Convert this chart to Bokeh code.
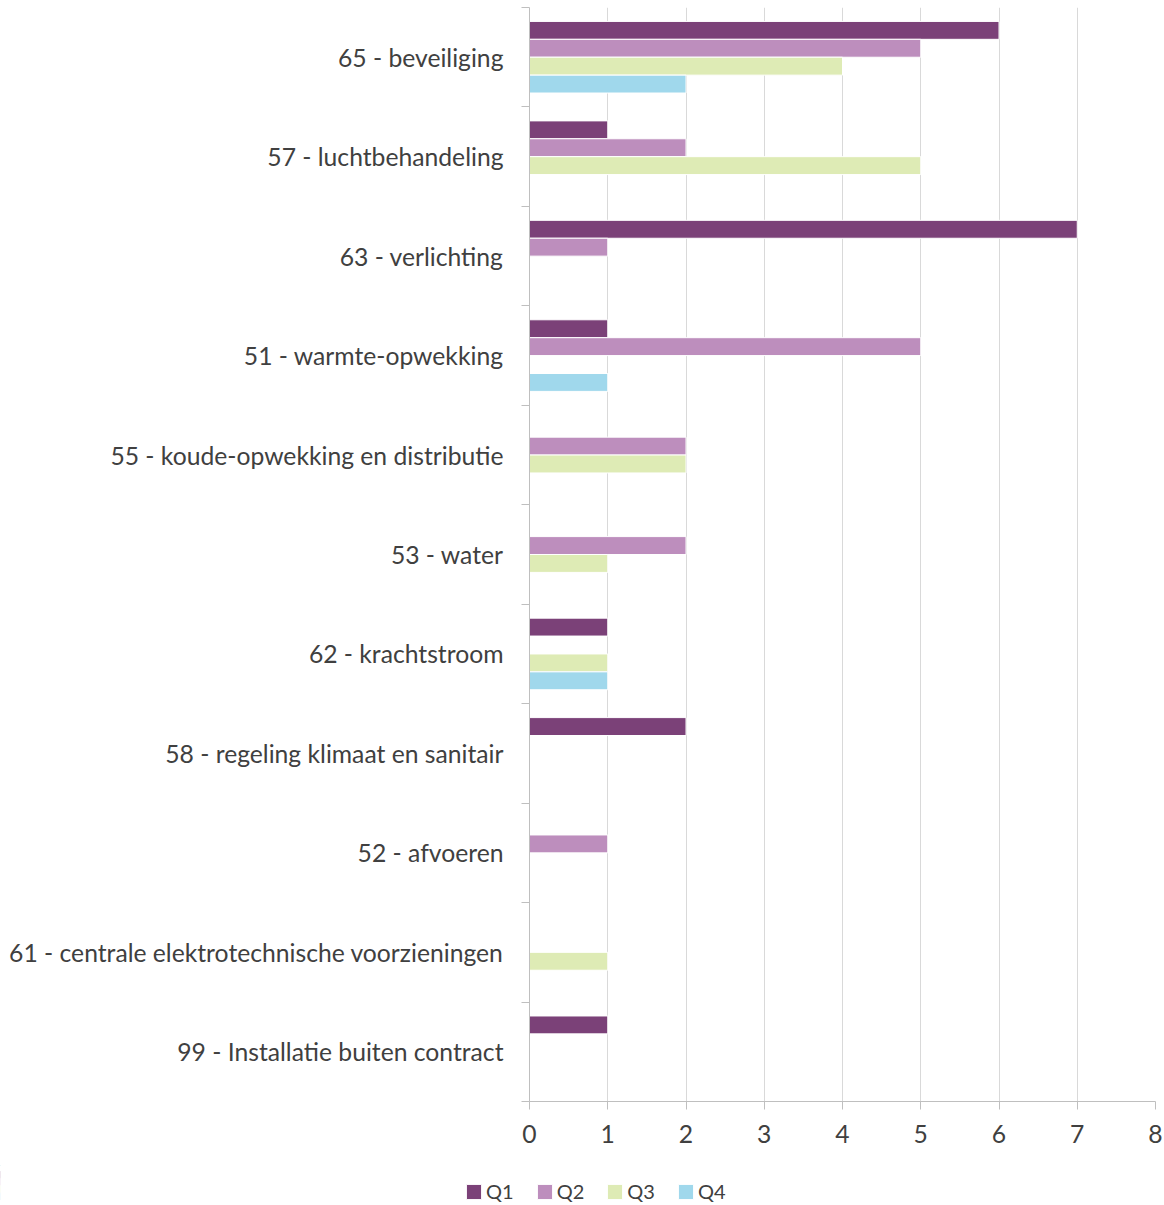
from bokeh.plotting import figure
from bokeh.layouts import column
from bokeh.models import (ColumnDataSource, Range1d, LinearAxis,
                          FixedTicker, Legend, LegendItem)
from bokeh.transform import dodge
from bokeh.embed import file_html
from bokeh.resources import INLINE

categories = [
    "65 - beveiliging",
    "57 - luchtbehandeling",
    "63 - verlichting",
    "51 - warmte-opwekking",
    "55 - koude-opwekking en distributie",
    "53 - water",
    "62 - krachtstroom",
    "58 - regeling klimaat en sanitair",
    "52 - afvoeren",
    "61 - centrale elektrotechnische voorzieningen",
    "99 - Installatie buiten contract",
]
q1 = [6, 1, 7, 1, 0, 0, 1, 2, 0, 0, 1]
q2 = [5, 2, 1, 5, 2, 2, 0, 0, 1, 0, 0]
q3 = [4, 5, 0, 0, 2, 1, 1, 0, 0, 1, 0]
q4 = [2, 0, 0, 1, 0, 0, 1, 0, 0, 0, 0]
series = ["Q1", "Q2", "Q3", "Q4"]
colors = ["#7B4178", "#BD8EBD", "#DEEBB5", "#A0D8EC"]
x_ticks = [0, 1, 2, 3, 4, 5, 6, 7, 8]

FONT = "Lato"
TEXT = "#404040"
AXIS = "#BFBFBF"
GRID = "#D9D9D9"

n = len(categories)
# band centre of each category (first category on top)
ypos = [n - 1 - i + 0.5 for i in range(n)]
bounds = list(range(n + 1))

source = ColumnDataSource(dict(cat=categories, y=ypos, Q1=q1, Q2=q2, Q3=q3, Q4=q4))

p = figure(
    width=1164, height=1165,
    y_range=Range1d(0, n),
    x_range=Range1d(x_ticks[0], x_ticks[-1]),
    output_backend="svg", toolbar_location=None,
    min_border_left=529, min_border_right=9,
    min_border_top=7, min_border_bottom=64,
)
p.outline_line_color = None
p.background_fill_color = "white"

bar_h = 0.18
offsets = [0.27, 0.09, -0.09, -0.27]
for s, c, off in zip(series, colors, offsets):
    p.hbar(y=dodge("y", off), left=0, right=s,
           height=bar_h, source=source, fill_color=c,
           line_color="white", line_width=1)

# boundary-tick axis (main y axis, nearest to the frame)
ya = p.yaxis[0]
ya.ticker = FixedTicker(ticks=bounds)
ya.major_label_overrides = {b: "" for b in bounds}
ya.axis_line_color = AXIS
ya.major_tick_line_color = AXIS
ya.major_tick_in = 0
ya.major_tick_out = 8
ya.major_label_standoff = 0
ya.minor_tick_line_color = None
ya.major_label_text_color = None
ya.major_label_text_font_size = "1px"

# category label axis
label_axis = LinearAxis(
    ticker=FixedTicker(ticks=ypos),
    major_label_overrides={y: c for y, c in zip(ypos, categories)},
    axis_line_color=None, major_tick_line_color=None,
    minor_tick_line_color=None, major_tick_in=0, major_tick_out=0,
    major_label_standoff=18,
    major_label_text_font=FONT, major_label_text_font_size="24.7px",
    major_label_text_color=TEXT,
)
p.add_layout(label_axis, "left")

xa = p.xaxis[0]
xa.ticker = FixedTicker(ticks=x_ticks)
xa.axis_line_color = AXIS
xa.major_tick_line_color = AXIS
xa.major_tick_in = 0
xa.major_tick_out = 8
xa.minor_tick_line_color = None
xa.major_label_standoff = 15
xa.major_label_text_font = FONT
xa.major_label_text_font_size = "24.7px"
xa.major_label_text_color = TEXT

p.xgrid.ticker = FixedTicker(ticks=x_ticks)
p.xgrid.grid_line_color = GRID
p.ygrid.grid_line_color = None

# legend strip (same series; bars lie outside this strip's view)
q = figure(
    width=1164, height=40,
    x_range=Range1d(100, 101), y_range=Range1d(0, 1),
    output_backend="svg", toolbar_location=None,
    x_axis_location=None, y_axis_location=None,
    min_border_left=0, min_border_right=0,
    min_border_top=0, min_border_bottom=0,
)
q.outline_line_color = None
q.grid.visible = False
for fig in (p, q):
    if "frame_align" in fig.properties():
        fig.frame_align = False

items = []
for s, c, off in zip(series, colors, offsets):
    r = q.hbar(y=dodge("y", off), left=0, right=s,
               height=bar_h, source=source, fill_color=c,
               line_color="white", line_width=1)
    items.append(LegendItem(label=s, renderers=[r]))

legend = Legend(
    items=items, orientation="horizontal", location=(464, 2),
    padding=0, margin=0, border_line_color=None, background_fill_alpha=0,
    glyph_width=19, glyph_height=19, label_standoff=3, spacing=21,
    label_text_font=FONT, label_text_font_size="20px",
    label_text_color=TEXT,
)
q.add_layout(legend)

layout = column(p, q, spacing=0)
open("out.html", "w").write(file_html(layout, INLINE))
